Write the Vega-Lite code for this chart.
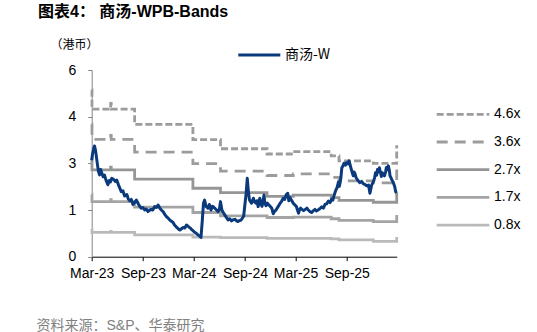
{
  "$schema": "https://vega.github.io/schema/vega-lite/v6.json",
  "width": 305,
  "height": 186.7,
  "autosize": {"type": "none"},
  "padding": {"left": 91.7, "top": 70, "right": 140.3, "bottom": 75.3},
  "background": "white",
  "config": {
    "view": {"stroke": null},
    "font": "Liberation Sans, Noto Sans CJK SC, sans-serif",
    "axis": {"labelFont": "Liberation Sans, Noto Sans CJK SC", "labelFontSize": 14, "labelColor": "#000000", "grid": false},
    "legend": {"labelFont": "Liberation Sans, Noto Sans CJK SC", "labelFontSize": 14, "labelColor": "#000000"}
  },
  "title": {
    "text": "图表4： 商汤-WPB-Bands",
    "anchor": "start",
    "frame": "group",
    "dx": -53.7,
    "dy": -14,
    "fontSize": 16,
    "fontWeight": "bold",
    "color": "#000000",
    "font": "Liberation Sans, Noto Sans CJK SC"
  },
  "datasets": {
    "bands": [
      {"date": "2023-03-01", "series": "4.6x", "value": 5.36},
      {"date": "2023-03-02", "series": "4.6x", "value": 4.74},
      {"date": "2023-05-08", "series": "4.6x", "value": 4.93},
      {"date": "2023-05-10", "series": "4.6x", "value": 4.74},
      {"date": "2023-08-02", "series": "4.6x", "value": 4.25},
      {"date": "2024-02-27", "series": "4.6x", "value": 3.76},
      {"date": "2024-06-05", "series": "4.6x", "value": 3.47},
      {"date": "2024-11-19", "series": "4.6x", "value": 3.30},
      {"date": "2025-02-21", "series": "4.6x", "value": 3.38},
      {"date": "2025-07-07", "series": "4.6x", "value": 3.24},
      {"date": "2025-08-04", "series": "4.6x", "value": 3.08},
      {"date": "2025-12-05", "series": "4.6x", "value": 3.00},
      {"date": "2026-02-27", "series": "4.6x", "value": 3.58},

      {"date": "2023-03-01", "series": "3.6x", "value": 4.26},
      {"date": "2023-03-02", "series": "3.6x", "value": 3.77},
      {"date": "2023-05-08", "series": "3.6x", "value": 3.90},
      {"date": "2023-05-10", "series": "3.6x", "value": 3.77},
      {"date": "2023-08-02", "series": "3.6x", "value": 3.36},
      {"date": "2024-02-27", "series": "3.6x", "value": 2.99},
      {"date": "2024-06-05", "series": "3.6x", "value": 2.75},
      {"date": "2024-11-19", "series": "3.6x", "value": 2.61},
      {"date": "2025-02-21", "series": "3.6x", "value": 2.66},
      {"date": "2025-07-07", "series": "3.6x", "value": 2.55},
      {"date": "2025-08-04", "series": "3.6x", "value": 2.44},
      {"date": "2025-12-05", "series": "3.6x", "value": 2.37},
      {"date": "2026-02-27", "series": "3.6x", "value": 2.80},

      {"date": "2023-03-01", "series": "2.7x", "value": 3.15},
      {"date": "2023-03-02", "series": "2.7x", "value": 2.79},
      {"date": "2023-05-08", "series": "2.7x", "value": 2.88},
      {"date": "2023-05-10", "series": "2.7x", "value": 2.79},
      {"date": "2023-08-02", "series": "2.7x", "value": 2.49},
      {"date": "2024-02-27", "series": "2.7x", "value": 2.20},
      {"date": "2024-06-05", "series": "2.7x", "value": 2.06},
      {"date": "2024-11-19", "series": "2.7x", "value": 1.94},
      {"date": "2025-02-21", "series": "2.7x", "value": 1.98},
      {"date": "2025-07-07", "series": "2.7x", "value": 1.90},
      {"date": "2025-08-04", "series": "2.7x", "value": 1.81},
      {"date": "2025-12-05", "series": "2.7x", "value": 1.75},
      {"date": "2026-02-27", "series": "2.7x", "value": 2.05},

      {"date": "2023-03-01", "series": "1.7x", "value": 2.00},
      {"date": "2023-03-02", "series": "1.7x", "value": 1.77},
      {"date": "2023-05-08", "series": "1.7x", "value": 1.83},
      {"date": "2023-05-10", "series": "1.7x", "value": 1.77},
      {"date": "2023-08-02", "series": "1.7x", "value": 1.59},
      {"date": "2024-02-27", "series": "1.7x", "value": 1.42},
      {"date": "2024-06-05", "series": "1.7x", "value": 1.31},
      {"date": "2024-11-19", "series": "1.7x", "value": 1.26},
      {"date": "2025-02-21", "series": "1.7x", "value": 1.27},
      {"date": "2025-07-07", "series": "1.7x", "value": 1.22},
      {"date": "2025-08-04", "series": "1.7x", "value": 1.17},
      {"date": "2025-12-05", "series": "1.7x", "value": 1.13},
      {"date": "2026-02-27", "series": "1.7x", "value": 1.34},

      {"date": "2023-03-01", "series": "0.8x", "value": 0.88},
      {"date": "2023-03-02", "series": "0.8x", "value": 0.78},
      {"date": "2023-05-08", "series": "0.8x", "value": 0.81},
      {"date": "2023-05-10", "series": "0.8x", "value": 0.78},
      {"date": "2023-08-02", "series": "0.8x", "value": 0.70},
      {"date": "2024-02-27", "series": "0.8x", "value": 0.63},
      {"date": "2024-06-05", "series": "0.8x", "value": 0.61},
      {"date": "2024-11-19", "series": "0.8x", "value": 0.59},
      {"date": "2025-02-21", "series": "0.8x", "value": 0.59},
      {"date": "2025-07-07", "series": "0.8x", "value": 0.57},
      {"date": "2025-08-04", "series": "0.8x", "value": 0.54},
      {"date": "2025-12-05", "series": "0.8x", "value": 0.49},
      {"date": "2026-02-27", "series": "0.8x", "value": 0.63}
    ],
    "price": [
      {"date": "2023-03-01", "series": "商汤-W", "value": 3.10},
      {"date": "2023-03-04", "series": "商汤-W", "value": 3.30},
      {"date": "2023-03-07", "series": "商汤-W", "value": 3.43},
      {"date": "2023-03-11", "series": "商汤-W", "value": 3.56},
      {"date": "2023-03-15", "series": "商汤-W", "value": 3.40},
      {"date": "2023-03-21", "series": "商汤-W", "value": 3.00},
      {"date": "2023-03-25", "series": "商汤-W", "value": 2.75},
      {"date": "2023-03-29", "series": "商汤-W", "value": 2.63},
      {"date": "2023-04-02", "series": "商汤-W", "value": 2.80},
      {"date": "2023-04-05", "series": "商汤-W", "value": 2.72},
      {"date": "2023-04-11", "series": "商汤-W", "value": 2.57},
      {"date": "2023-04-16", "series": "商汤-W", "value": 2.62},
      {"date": "2023-04-21", "series": "商汤-W", "value": 2.47},
      {"date": "2023-04-28", "series": "商汤-W", "value": 2.31},
      {"date": "2023-05-03", "series": "商汤-W", "value": 2.45},
      {"date": "2023-05-07", "series": "商汤-W", "value": 2.40},
      {"date": "2023-05-12", "series": "商汤-W", "value": 2.52},
      {"date": "2023-05-18", "series": "商汤-W", "value": 2.49},
      {"date": "2023-05-25", "series": "商汤-W", "value": 2.42},
      {"date": "2023-05-30", "series": "商汤-W", "value": 2.46},
      {"date": "2023-06-05", "series": "商汤-W", "value": 2.31},
      {"date": "2023-06-10", "series": "商汤-W", "value": 2.20},
      {"date": "2023-06-15", "series": "商汤-W", "value": 2.09},
      {"date": "2023-06-21", "series": "商汤-W", "value": 2.12},
      {"date": "2023-06-27", "series": "商汤-W", "value": 1.95},
      {"date": "2023-07-05", "series": "商汤-W", "value": 2.00},
      {"date": "2023-07-10", "series": "商汤-W", "value": 1.86},
      {"date": "2023-07-15", "series": "商汤-W", "value": 1.80},
      {"date": "2023-07-21", "series": "商汤-W", "value": 1.84},
      {"date": "2023-07-27", "series": "商汤-W", "value": 1.68},
      {"date": "2023-08-02", "series": "商汤-W", "value": 1.74},
      {"date": "2023-08-08", "series": "商汤-W", "value": 1.82},
      {"date": "2023-08-15", "series": "商汤-W", "value": 1.70},
      {"date": "2023-08-20", "series": "商汤-W", "value": 1.62},
      {"date": "2023-08-26", "series": "商汤-W", "value": 1.56},
      {"date": "2023-09-01", "series": "商汤-W", "value": 1.58},
      {"date": "2023-09-07", "series": "商汤-W", "value": 1.50},
      {"date": "2023-09-13", "series": "商汤-W", "value": 1.53},
      {"date": "2023-09-19", "series": "商汤-W", "value": 1.45},
      {"date": "2023-09-24", "series": "商汤-W", "value": 1.49},
      {"date": "2023-09-30", "series": "商汤-W", "value": 1.52},
      {"date": "2023-10-06", "series": "商汤-W", "value": 1.50},
      {"date": "2023-10-13", "series": "商汤-W", "value": 1.61},
      {"date": "2023-10-19", "series": "商汤-W", "value": 1.58},
      {"date": "2023-10-25", "series": "商汤-W", "value": 1.66},
      {"date": "2023-11-01", "series": "商汤-W", "value": 1.55},
      {"date": "2023-11-06", "series": "商汤-W", "value": 1.50},
      {"date": "2023-11-12", "series": "商汤-W", "value": 1.45},
      {"date": "2023-11-18", "series": "商汤-W", "value": 1.36},
      {"date": "2023-11-24", "series": "商汤-W", "value": 1.29},
      {"date": "2023-11-30", "series": "商汤-W", "value": 1.24},
      {"date": "2023-12-06", "series": "商汤-W", "value": 1.18},
      {"date": "2023-12-12", "series": "商汤-W", "value": 1.14},
      {"date": "2023-12-18", "series": "商汤-W", "value": 1.10},
      {"date": "2023-12-23", "series": "商汤-W", "value": 1.02},
      {"date": "2023-12-29", "series": "商汤-W", "value": 0.96},
      {"date": "2024-01-05", "series": "商汤-W", "value": 0.90},
      {"date": "2024-01-11", "series": "商汤-W", "value": 0.86},
      {"date": "2024-01-17", "series": "商汤-W", "value": 0.90},
      {"date": "2024-01-23", "series": "商汤-W", "value": 0.94},
      {"date": "2024-01-29", "series": "商汤-W", "value": 0.92},
      {"date": "2024-02-04", "series": "商汤-W", "value": 1.02},
      {"date": "2024-02-09", "series": "商汤-W", "value": 0.98},
      {"date": "2024-02-13", "series": "商汤-W", "value": 0.95},
      {"date": "2024-02-19", "series": "商汤-W", "value": 0.91},
      {"date": "2024-02-24", "series": "商汤-W", "value": 0.86},
      {"date": "2024-03-03", "series": "商汤-W", "value": 0.80},
      {"date": "2024-03-10", "series": "商汤-W", "value": 0.75},
      {"date": "2024-03-16", "series": "商汤-W", "value": 0.70},
      {"date": "2024-03-22", "series": "商汤-W", "value": 0.66},
      {"date": "2024-03-27", "series": "商汤-W", "value": 0.62},
      {"date": "2024-04-01", "series": "商汤-W", "value": 1.20},
      {"date": "2024-04-05", "series": "商汤-W", "value": 1.72},
      {"date": "2024-04-09", "series": "商汤-W", "value": 1.82},
      {"date": "2024-04-14", "series": "商汤-W", "value": 1.62},
      {"date": "2024-04-21", "series": "商汤-W", "value": 1.56},
      {"date": "2024-04-26", "series": "商汤-W", "value": 1.68},
      {"date": "2024-05-02", "series": "商汤-W", "value": 1.50},
      {"date": "2024-05-07", "series": "商汤-W", "value": 1.62},
      {"date": "2024-05-11", "series": "商汤-W", "value": 1.60},
      {"date": "2024-05-16", "series": "商汤-W", "value": 1.55},
      {"date": "2024-05-22", "series": "商汤-W", "value": 1.50},
      {"date": "2024-05-27", "series": "商汤-W", "value": 1.45},
      {"date": "2024-06-01", "series": "商汤-W", "value": 1.52},
      {"date": "2024-06-05", "series": "商汤-W", "value": 1.77},
      {"date": "2024-06-10", "series": "商汤-W", "value": 1.50},
      {"date": "2024-06-16", "series": "商汤-W", "value": 1.40},
      {"date": "2024-06-22", "series": "商汤-W", "value": 1.32},
      {"date": "2024-07-02", "series": "商汤-W", "value": 1.18},
      {"date": "2024-07-08", "series": "商汤-W", "value": 1.22},
      {"date": "2024-07-15", "series": "商汤-W", "value": 1.15},
      {"date": "2024-07-21", "series": "商汤-W", "value": 1.19},
      {"date": "2024-07-27", "series": "商汤-W", "value": 1.20},
      {"date": "2024-08-02", "series": "商汤-W", "value": 1.15},
      {"date": "2024-08-07", "series": "商汤-W", "value": 1.13},
      {"date": "2024-08-12", "series": "商汤-W", "value": 1.16},
      {"date": "2024-08-18", "series": "商汤-W", "value": 1.18},
      {"date": "2024-08-27", "series": "商汤-W", "value": 1.30},
      {"date": "2024-08-30", "series": "商汤-W", "value": 1.55},
      {"date": "2024-09-05", "series": "商汤-W", "value": 2.04},
      {"date": "2024-09-09", "series": "商汤-W", "value": 2.52},
      {"date": "2024-09-13", "series": "商汤-W", "value": 2.10},
      {"date": "2024-09-17", "series": "商汤-W", "value": 1.82},
      {"date": "2024-09-24", "series": "商汤-W", "value": 1.72},
      {"date": "2024-10-01", "series": "商汤-W", "value": 1.88},
      {"date": "2024-10-05", "series": "商汤-W", "value": 1.76},
      {"date": "2024-10-10", "series": "商汤-W", "value": 1.72},
      {"date": "2024-10-14", "series": "商汤-W", "value": 1.80},
      {"date": "2024-10-18", "series": "商汤-W", "value": 1.61},
      {"date": "2024-10-24", "series": "商汤-W", "value": 1.88},
      {"date": "2024-10-28", "series": "商汤-W", "value": 1.70},
      {"date": "2024-11-01", "series": "商汤-W", "value": 1.62},
      {"date": "2024-11-04", "series": "商汤-W", "value": 1.75},
      {"date": "2024-11-08", "series": "商汤-W", "value": 1.98},
      {"date": "2024-11-11", "series": "商汤-W", "value": 1.72},
      {"date": "2024-11-15", "series": "商汤-W", "value": 1.64},
      {"date": "2024-11-20", "series": "商汤-W", "value": 1.72},
      {"date": "2024-11-24", "series": "商汤-W", "value": 1.68},
      {"date": "2024-11-30", "series": "商汤-W", "value": 1.62},
      {"date": "2024-12-06", "series": "商汤-W", "value": 1.56},
      {"date": "2024-12-11", "series": "商汤-W", "value": 1.38},
      {"date": "2024-12-16", "series": "商汤-W", "value": 1.46},
      {"date": "2024-12-21", "series": "商汤-W", "value": 1.50},
      {"date": "2024-12-28", "series": "商汤-W", "value": 1.60},
      {"date": "2025-01-05", "series": "商汤-W", "value": 1.72},
      {"date": "2025-01-10", "series": "商汤-W", "value": 1.78},
      {"date": "2025-01-16", "series": "商汤-W", "value": 1.88},
      {"date": "2025-01-21", "series": "商汤-W", "value": 1.84},
      {"date": "2025-01-26", "series": "商汤-W", "value": 1.98},
      {"date": "2025-02-01", "series": "商汤-W", "value": 2.04},
      {"date": "2025-02-05", "series": "商汤-W", "value": 1.80},
      {"date": "2025-02-09", "series": "商汤-W", "value": 1.90},
      {"date": "2025-02-13", "series": "商汤-W", "value": 1.84},
      {"date": "2025-02-17", "series": "商汤-W", "value": 1.78},
      {"date": "2025-02-21", "series": "商汤-W", "value": 1.72},
      {"date": "2025-02-27", "series": "商汤-W", "value": 1.66},
      {"date": "2025-03-04", "series": "商汤-W", "value": 1.62},
      {"date": "2025-03-08", "series": "商汤-W", "value": 1.50},
      {"date": "2025-03-12", "series": "商汤-W", "value": 1.40},
      {"date": "2025-03-15", "series": "商汤-W", "value": 1.50},
      {"date": "2025-03-19", "series": "商汤-W", "value": 1.56},
      {"date": "2025-03-24", "series": "商汤-W", "value": 1.52},
      {"date": "2025-03-30", "series": "商汤-W", "value": 1.48},
      {"date": "2025-04-05", "series": "商汤-W", "value": 1.52},
      {"date": "2025-04-11", "series": "商汤-W", "value": 1.56},
      {"date": "2025-04-16", "series": "商汤-W", "value": 1.50},
      {"date": "2025-04-22", "series": "商汤-W", "value": 1.45},
      {"date": "2025-04-28", "series": "商汤-W", "value": 1.42},
      {"date": "2025-05-04", "series": "商汤-W", "value": 1.48},
      {"date": "2025-05-10", "series": "商汤-W", "value": 1.52},
      {"date": "2025-05-15", "series": "商汤-W", "value": 1.47},
      {"date": "2025-05-21", "series": "商汤-W", "value": 1.50},
      {"date": "2025-05-27", "series": "商汤-W", "value": 1.54},
      {"date": "2025-06-03", "series": "商汤-W", "value": 1.60},
      {"date": "2025-06-09", "series": "商汤-W", "value": 1.56},
      {"date": "2025-06-15", "series": "商汤-W", "value": 1.68},
      {"date": "2025-06-21", "series": "商汤-W", "value": 1.70},
      {"date": "2025-06-27", "series": "商汤-W", "value": 1.79},
      {"date": "2025-07-03", "series": "商汤-W", "value": 1.74},
      {"date": "2025-07-09", "series": "商汤-W", "value": 1.85},
      {"date": "2025-07-13", "series": "商汤-W", "value": 1.82},
      {"date": "2025-07-17", "series": "商汤-W", "value": 1.96},
      {"date": "2025-07-23", "series": "商汤-W", "value": 2.12},
      {"date": "2025-07-28", "series": "商汤-W", "value": 2.22},
      {"date": "2025-08-02", "series": "商汤-W", "value": 2.40},
      {"date": "2025-08-05", "series": "商汤-W", "value": 2.26},
      {"date": "2025-08-08", "series": "商汤-W", "value": 2.38},
      {"date": "2025-08-11", "series": "商汤-W", "value": 2.55},
      {"date": "2025-08-14", "series": "商汤-W", "value": 2.85},
      {"date": "2025-08-18", "series": "商汤-W", "value": 2.92},
      {"date": "2025-08-22", "series": "商汤-W", "value": 3.00},
      {"date": "2025-08-27", "series": "商汤-W", "value": 2.94},
      {"date": "2025-08-31", "series": "商汤-W", "value": 3.02},
      {"date": "2025-09-05", "series": "商汤-W", "value": 2.98},
      {"date": "2025-09-09", "series": "商汤-W", "value": 3.08},
      {"date": "2025-09-13", "series": "商汤-W", "value": 2.95},
      {"date": "2025-09-16", "series": "商汤-W", "value": 2.85},
      {"date": "2025-09-20", "series": "商汤-W", "value": 2.72},
      {"date": "2025-09-24", "series": "商汤-W", "value": 2.60},
      {"date": "2025-09-27", "series": "商汤-W", "value": 2.72},
      {"date": "2025-09-30", "series": "商汤-W", "value": 2.68},
      {"date": "2025-10-04", "series": "商汤-W", "value": 2.55},
      {"date": "2025-10-07", "series": "商汤-W", "value": 2.50},
      {"date": "2025-10-12", "series": "商汤-W", "value": 2.44},
      {"date": "2025-10-18", "series": "商汤-W", "value": 2.38},
      {"date": "2025-10-24", "series": "商汤-W", "value": 2.42},
      {"date": "2025-10-30", "series": "商汤-W", "value": 2.35},
      {"date": "2025-11-05", "series": "商汤-W", "value": 2.32},
      {"date": "2025-11-11", "series": "商汤-W", "value": 2.28},
      {"date": "2025-11-18", "series": "商汤-W", "value": 2.30},
      {"date": "2025-11-23", "series": "商汤-W", "value": 2.04},
      {"date": "2025-11-29", "series": "商汤-W", "value": 2.30},
      {"date": "2025-12-06", "series": "商汤-W", "value": 2.42},
      {"date": "2025-12-10", "series": "商汤-W", "value": 2.55},
      {"date": "2025-12-13", "series": "商汤-W", "value": 2.70},
      {"date": "2025-12-17", "series": "商汤-W", "value": 2.62},
      {"date": "2025-12-20", "series": "商汤-W", "value": 2.80},
      {"date": "2025-12-24", "series": "商汤-W", "value": 2.72},
      {"date": "2025-12-27", "series": "商汤-W", "value": 2.86},
      {"date": "2025-12-31", "series": "商汤-W", "value": 2.70},
      {"date": "2026-01-03", "series": "商汤-W", "value": 2.58},
      {"date": "2026-01-06", "series": "商汤-W", "value": 2.70},
      {"date": "2026-01-09", "series": "商汤-W", "value": 2.66},
      {"date": "2026-01-14", "series": "商汤-W", "value": 2.60},
      {"date": "2026-01-18", "series": "商汤-W", "value": 2.72},
      {"date": "2026-01-21", "series": "商汤-W", "value": 2.87},
      {"date": "2026-01-25", "series": "商汤-W", "value": 2.80},
      {"date": "2026-01-28", "series": "商汤-W", "value": 2.92},
      {"date": "2026-02-01", "series": "商汤-W", "value": 2.75},
      {"date": "2026-02-03", "series": "商汤-W", "value": 2.60},
      {"date": "2026-02-06", "series": "商汤-W", "value": 2.55},
      {"date": "2026-02-09", "series": "商汤-W", "value": 2.48},
      {"date": "2026-02-13", "series": "商汤-W", "value": 2.42},
      {"date": "2026-02-16", "series": "商汤-W", "value": 2.35},
      {"date": "2026-02-20", "series": "商汤-W", "value": 2.25},
      {"date": "2026-02-23", "series": "商汤-W", "value": 2.10},
      {"date": "2026-02-26", "series": "商汤-W", "value": 2.04}
    ]
  },
  "encoding": {
    "x": {
      "field": "date",
      "type": "temporal",
      "scale": {
        "type": "utc",
        "domain": [
          {"year": 2023, "month": 3, "date": 1, "utc": true},
          {"year": 2026, "month": 2, "date": 27, "utc": true}
        ]
      },
      "axis": {
        "values": [
          {"year": 2023, "month": 3, "date": 1, "utc": true},
          {"year": 2023, "month": 9, "date": 1, "utc": true},
          {"year": 2024, "month": 3, "date": 1, "utc": true},
          {"year": 2024, "month": 9, "date": 1, "utc": true},
          {"year": 2025, "month": 3, "date": 1, "utc": true},
          {"year": 2025, "month": 9, "date": 1, "utc": true}
        ],
        "labelExpr": "utcFormat(datum.value, '%b-%y')",
        "domainColor": "#000000",
        "tickColor": "#000000",
        "tickSize": 4,
        "labelPadding": 6,
        "labelFlush": false,
        "labelOverlap": false,
        "title": "资料来源：S&P、华泰研究",
        "titleX": -55.7,
        "titleY": 69,
        "titleAlign": "left",
        "titleAnchor": "start",
        "titleBaseline": "middle",
        "titleFontSize": 14,
        "titleFontWeight": "normal",
        "titleColor": "#808080",
        "titleFont": "Liberation Sans, Noto Sans CJK SC"
      }
    },
    "y": {
      "field": "value",
      "type": "quantitative",
      "scale": {"domain": [0, 6], "nice": false, "zero": true},
      "axis": {
        "values": [0, 1.5, 3, 4.5, 6],
        "labelExpr": "datum.value === 1.5 ? '1' : datum.value === 4.5 ? '4' : datum.label",
        "domainColor": "#868686",
        "tickColor": "#868686",
        "tickSize": 4,
        "labelPadding": 12,
        "title": "（港币）",
        "titleAngle": 0,
        "titleX": -41.7,
        "titleY": -26,
        "titleAlign": "left",
        "titleBaseline": "middle",
        "titleFontSize": 12,
        "titleFontWeight": "normal",
        "titleColor": "#000000",
        "titleFont": "Noto Sans CJK SC"
      }
    }
  },
  "layer": [
    {
      "data": {"name": "bands"},
      "mark": {"type": "line", "interpolate": "step-after", "strokeCap": "butt"},
      "encoding": {
        "stroke": {
          "field": "series",
          "type": "nominal",
          "scale": {"domain": ["4.6x", "3.6x", "2.7x", "1.7x", "0.8x"], "range": ["#9c9c9c", "#9c9c9c", "#969696", "#a4a4a4", "#bababa"]},
          "legend": {"orient": "none", "legendX": 343.3, "legendY": 37.3, "title": null, "symbolType": "stroke", "symbolSize": 2770, "labelOffset": 3, "padding": 0, "clipHeight": 14, "rowPadding": 13.7, "offset": 0}
        },
        "strokeDash": {
          "field": "series",
          "type": "nominal",
          "scale": {"domain": ["4.6x", "3.6x", "2.7x", "1.7x", "0.8x"], "range": [[7, 3], [11, 7], [1, 0], [1, 0], [1, 0]]},
          "legend": {"orient": "none", "legendX": 343.3, "legendY": 37.3, "title": null, "symbolType": "stroke", "symbolSize": 2770, "labelOffset": 3, "padding": 0, "clipHeight": 14, "rowPadding": 13.7, "offset": 0}
        },
        "strokeWidth": {
          "field": "series",
          "type": "nominal",
          "scale": {"domain": ["4.6x", "3.6x", "2.7x", "1.7x", "0.8x"], "range": [2.8, 2.8, 2, 1.7, 1.5]},
          "legend": {"orient": "none", "legendX": 343.3, "legendY": 37.3, "title": null, "symbolType": "stroke", "symbolSize": 2770, "labelOffset": 3, "padding": 0, "clipHeight": 14, "rowPadding": 13.7, "offset": 0}
        }
      }
    },
    {
      "data": {"name": "price"},
      "mark": {"type": "line", "strokeWidth": 3, "strokeJoin": "round"},
      "encoding": {
        "color": {
          "field": "series",
          "type": "nominal",
          "scale": {"domain": ["商汤-W"], "range": ["#0a3a7c"]},
          "legend": {"orient": "none", "legendX": 145.1, "legendY": -22, "title": null, "symbolType": "stroke", "symbolSize": 1764, "symbolStrokeWidth": 3, "labelOffset": 3.2, "padding": 0, "clipHeight": 14, "offset": 0, "labelFont": "Noto Sans CJK SC, Liberation Sans"}
        }
      }
    }
  ]
}
